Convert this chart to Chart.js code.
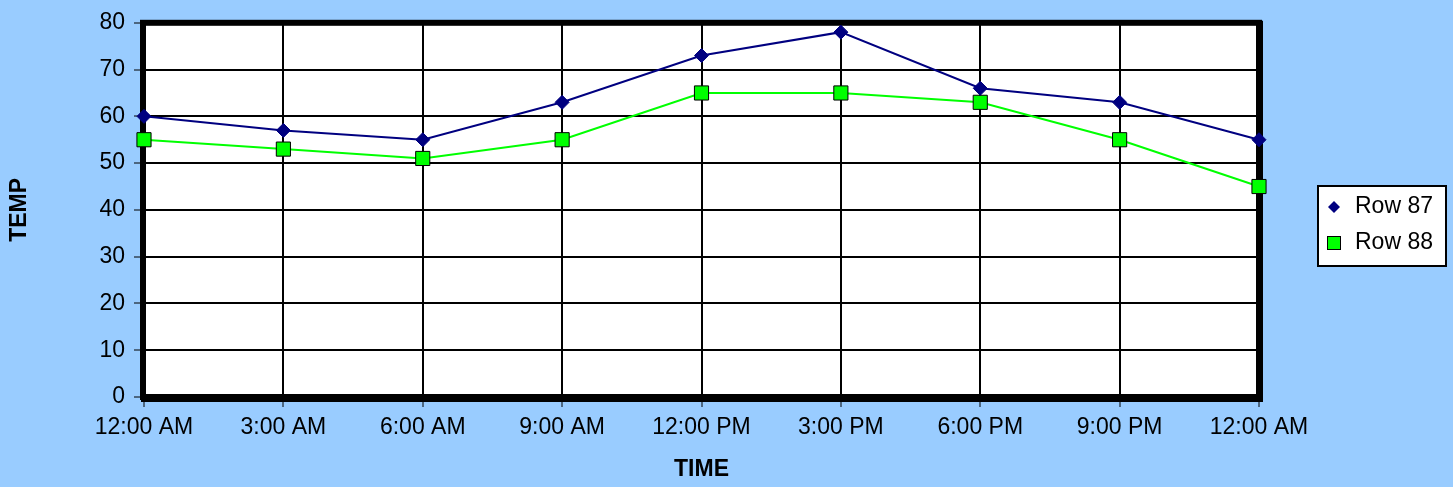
<!DOCTYPE html>
<html>
<head>
<meta charset="utf-8">
<script src="https://cdn.jsdelivr.net/npm/chart.js@4.4.0/dist/chart.umd.min.js"></script>
<style>
html,body{margin:0;padding:0;background:#99CCFF;}
#wrap{width:1453px;height:487px;position:relative;}
</style>
</head>
<body>
<div id="wrap"><canvas id="c" width="1453" height="487"></canvas></div>
<script>
const categories = ["12:00 AM","3:00 AM","6:00 AM","9:00 AM","12:00 PM","3:00 PM","6:00 PM","9:00 PM","12:00 AM"];
const row87 = [60, 57, 55, 63, 73, 78, 66, 63, 55];
const row88 = [55, 53, 51, 55, 65, 65, 63, 55, 45];
const yTicks = [0, 10, 20, 30, 40, 50, 60, 70, 80];
const seriesNames = ["Row 87", "Row 88"];

const FONT = "'Liberation Sans', Arial, sans-serif";

const bgPlugin = {
  id: 'plotBg',
  beforeDraw(chart) {
    const {ctx, chartArea: a} = chart;
    ctx.save();
    ctx.fillStyle = '#fff';
    ctx.fillRect(a.left, a.top, a.right - a.left, a.bottom - a.top);
    ctx.restore();
  }
};

const framePlugin = {
  id: 'frame',
  beforeDatasetsDraw(chart) {
    const {ctx, chartArea: a} = chart;
    ctx.save();
    ctx.strokeStyle = '#000';
    ctx.lineWidth = 6;
    ctx.strokeRect(a.left - 1, a.top, a.right - a.left + 1, a.bottom - a.top);
    ctx.lineWidth = 2;
    ctx.beginPath();
    ctx.moveTo(a.right + 3, a.top - 2);
    ctx.lineTo(a.right + 3, a.bottom + 4);
    ctx.lineTo(a.left - 3, a.bottom + 4);
    ctx.stroke();
    ctx.restore();
  }
};

const legendPlugin = {
  id: 'customLegend',
  afterDraw(chart) {
    const ctx = chart.ctx;
    ctx.save();
    const x = 1318, y = 186, w = 128, h = 80;
    ctx.fillStyle = '#fff';
    ctx.fillRect(x, y, w, h);
    ctx.strokeStyle = '#000';
    ctx.lineWidth = 2;
    ctx.strokeRect(x, y, w, h);
    ctx.font = '23px ' + FONT;
    ctx.textBaseline = 'middle';
    ctx.textAlign = 'left';
    const mx = 1334;
    let my = 207;
    ctx.fillStyle = '#000080';
    ctx.beginPath();
    ctx.moveTo(mx, my - 6); ctx.lineTo(mx + 6, my); ctx.lineTo(mx, my + 6); ctx.lineTo(mx - 6, my); ctx.closePath();
    ctx.fill();
    ctx.fillStyle = '#000';
    ctx.fillText(seriesNames[0], 1355, my);
    my = 243;
    ctx.fillStyle = '#00FF00';
    ctx.fillRect(mx - 6, my - 6, 12, 12);
    ctx.lineWidth = 1;
    ctx.strokeStyle = '#000';
    ctx.strokeRect(mx - 6.5, my - 6.5, 13, 13);
    ctx.fillStyle = '#000';
    ctx.fillText(seriesNames[1], 1355, my);
    ctx.restore();
  }
};

new Chart(document.getElementById('c'), {
  type: 'line',
  data: {
    labels: categories,
    datasets: [
      {
        label: seriesNames[0],
        data: row87,
        borderColor: '#000080',
        backgroundColor: '#000080',
        borderWidth: 2,
        pointStyle: 'rectRot',
        pointRadius: 7,
        pointBorderWidth: 1,
        pointBorderColor: '#000080',
        pointBackgroundColor: '#000080',
        tension: 0,
        clip: false
      },
      {
        label: seriesNames[1],
        data: row88,
        borderColor: '#00FF00',
        backgroundColor: '#00FF00',
        borderWidth: 2,
        pointStyle: 'rect',
        pointRadius: 10,
        pointBorderWidth: 1,
        pointBorderColor: '#000',
        pointBackgroundColor: '#00FF00',
        tension: 0,
        clip: false
      }
    ]
  },
  options: {
    responsive: false,
    animation: false,
    devicePixelRatio: 1,
    layout: { padding: { left: 0, top: 19, right: 194, bottom: 0 } },
    plugins: { legend: { display: false }, tooltip: { enabled: false } },
    scales: {
      x: {
        offset: false,
        grid: { color: '#000', lineWidth: 2, tickLength: 10, drawTicks: true, tickColor: '#000', tickWidth: 1 },
        border: { display: false },
        ticks: { color: '#000', font: { family: FONT, size: 23 }, padding: 7, maxRotation: 0, autoSkip: false },
        title: { display: true, text: 'TIME', color: '#000', font: { family: FONT, size: 23, weight: 'bold' }, padding: { top: 4, bottom: 4 } },
        afterFit(s) { s.height = 90; }
      },
      y: {
        min: 0,
        max: 80,
        afterBuildTicks(s) { s.ticks = yTicks.map(v => ({ value: v })); },
        grid: { color: '#000', lineWidth: 2, tickLength: 10, drawTicks: true, tickColor: '#000', tickWidth: 1 },
        border: { display: false },
        ticks: { color: '#000', font: { family: FONT, size: 23 }, padding: 9 },
        title: { display: true, text: 'TEMP', color: '#000', font: { family: FONT, size: 23, weight: 'bold' }, padding: { top: 6, bottom: 4 } },
        afterFit(s) { s.width = 144; }
      }
    }
  },
  plugins: [bgPlugin, framePlugin, legendPlugin]
});
</script>
</body>
</html>
